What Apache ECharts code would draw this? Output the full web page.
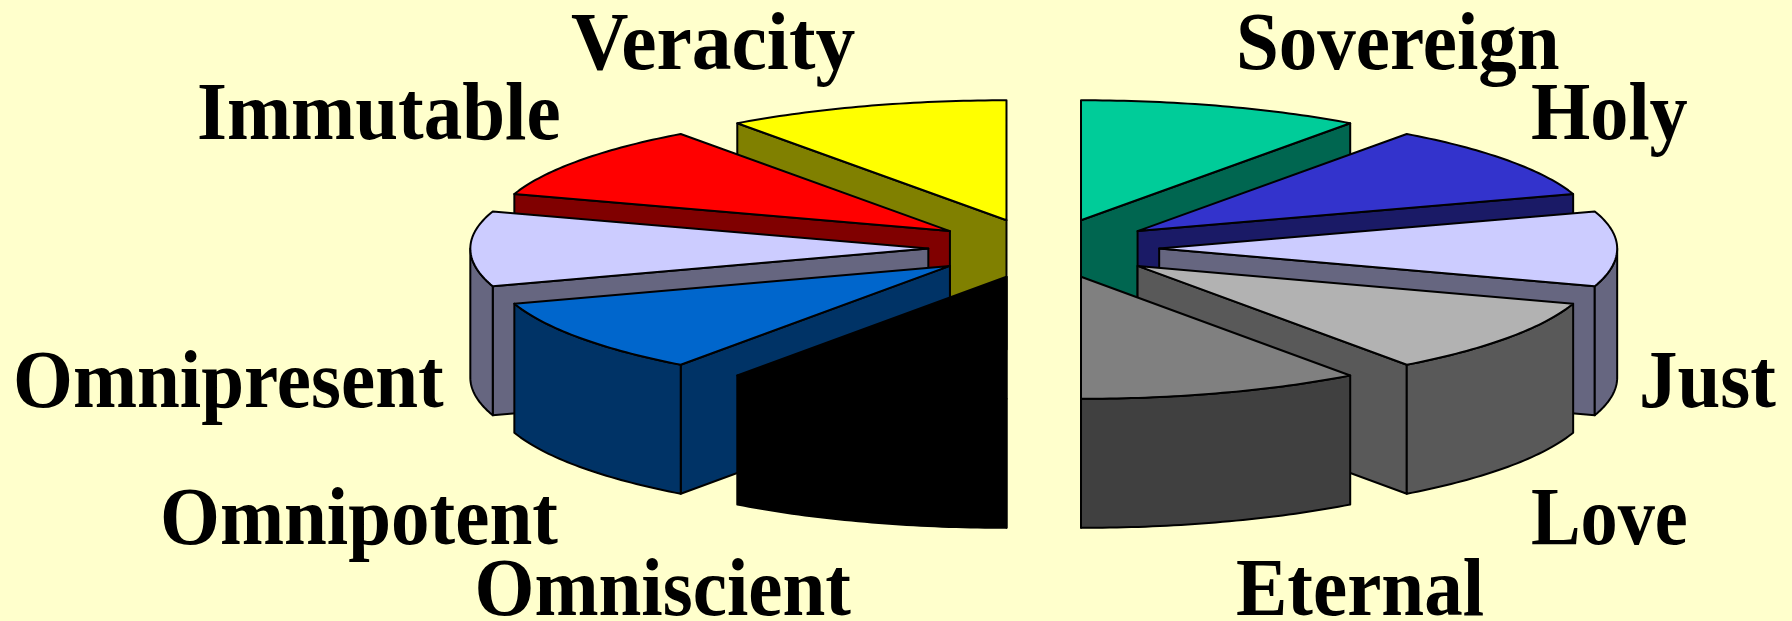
<!DOCTYPE html>
<html>
<head>
<meta charset="utf-8">
<style>
  html, body { margin: 0; padding: 0; background: #ffffcc; }
  #main { width: 1792px; height: 621px; }
</style>
<script src="https://cdn.jsdelivr.net/npm/echarts@6/dist/echarts.min.js"></script>
</head>
<body>
<div id="main"></div>
<script>
// clockwise from twelve o'clock
var categories = ['Sovereign', 'Holy', 'Just', 'Love', 'Eternal', 'Omniscient', 'Omnipotent', 'Omnipresent', 'Immutable', 'Veracity'];
var values = [10, 10, 10, 10, 10, 10, 10, 10, 10, 10];
var topColors = ['#00cc99', '#3333cc', '#ccccff', '#b2b2b2', '#808080', '#000000', '#0066cc', '#ccccff', '#ff0000', '#ffff00'];
var sideColors = ['#006650', '#1a1a66', '#666680', '#595959', '#404040', '#000000', '#003366', '#666680', '#800000', '#808000'];

// pie layout, in px
var W = 1792, H = 621;
var cx = 1043.75, cy = 248.5, rx = 458, ry = 120;
var depth = 129 / ry;
var explode = 0.247;
var halfGap = 2.3 / rx;     // the two halves sit a little further apart
var frontStretch = 1.018;   // near side of the pie is a touch deeper

// where each label starts: x, baseline, x scale
var labelSpots = {
    Sovereign: [1236, 70, 1], Holy: [1531, 140, 0.99], Just: [1639, 408, 1], Love: [1531, 545, 0.965], Eternal: [1236, 616, 1],
    Omniscient: [474.5, 616, 1], Omnipotent: [160, 545, 1], Omnipresent: [13, 408, 1], Immutable: [197, 140, 1], Veracity: [571, 70, 1.033]
};
var labelAscent = 59;
var labelScaleY = 1.06;

var total = values.reduce(function (a, b) { return a + b; }, 0);
var starts = [];
var sum = 0;
for (var v = 0; v < values.length; v++) {
    starts.push(sum / total * Math.PI * 2);
    sum += values[v];
}

function renderSlice(params, api) {
    var i = api.value(0);
    var a0 = starts[i];
    var a1 = a0 + api.value(1) / total * Math.PI * 2;
    var mid = (a0 + a1) / 2;
    var ox = explode * Math.sin(mid) + (mid < Math.PI ? halfGap : -halfGap);
    var oy = explode * Math.cos(mid);
    var apex = function (dz) { return api.coord([ox, oy - dz]); };
    var rim = function (a, dz) {
        var c = Math.cos(a);
        return api.coord([ox + Math.sin(a), oy + (c < 0 ? c * frontStretch : c) - dz]);
    };
    var arc = function (from, to, dz) {
        var pts = [];
        var n = 40;
        for (var k = 0; k <= n; k++) {
            pts.push(rim(from + (to - from) * k / n, dz));
        }
        return pts;
    };
    var line = {stroke: '#000', lineWidth: 2, lineJoin: 'round'};
    var children = [];

    // the radial face turned to the viewer
    var fa = a0 < Math.PI - 1e-6 ? a1 : a0;
    children.push({
        type: 'polygon',
        shape: {points: [apex(0), rim(fa, 0), rim(fa, depth), apex(depth)]},
        style: Object.assign({fill: sideColors[i]}, line)
    });

    // outer wall, front half only
    var w0 = Math.max(a0, Math.PI / 2);
    var w1 = Math.min(a1, Math.PI * 1.5);
    if (w1 > w0) {
        children.push({
            type: 'polygon',
            shape: {points: arc(w0, w1, 0).concat(arc(w1, w0, depth))},
            style: Object.assign({fill: sideColors[i]}, line)
        });
    }

    // top
    children.push({
        type: 'polygon',
        shape: {points: [apex(0)].concat(arc(a0, a1, 0))},
        style: Object.assign({fill: topColors[i]}, line)
    });
    return {type: 'group', children: children};
}

// back slices first, so the front ones cover them
var drawOrder = categories.map(function (c, i) { return i; }).sort(function (p, q) {
    var dp = Math.cos(starts[p] + values[p] / total * Math.PI);
    var dq = Math.cos(starts[q] + values[q] / total * Math.PI);
    return dq - dp;
});

var labels = categories.map(function (name) {
    var spot = labelSpots[name];
    return {
        type: 'text',
        silent: true,
        x: spot[0],
        y: spot[1],
        scaleX: spot[2],
        scaleY: labelScaleY,
        style: {
            text: name,
            x: 0,
            y: -labelAscent,
            fill: '#000',
            font: 'bold 77px "Liberation Serif"'
        }
    };
});

var chart = echarts.init(document.getElementById('main'), null, {renderer: 'canvas'});
chart.setOption({
    animation: false,
    backgroundColor: '#ffffcc',
    grid: {left: 0, right: 0, top: 0, bottom: 0},
    xAxis: {type: 'value', show: false, min: -cx / rx, max: (W - cx) / rx},
    yAxis: {type: 'value', show: false, min: -(H - cy) / ry, max: cy / ry},
    graphic: labels,
    series: [{
        type: 'custom',
        coordinateSystem: 'cartesian2d',
        renderItem: renderSlice,
        encode: {x: 0, y: 2},
        data: drawOrder.map(function (i) {
            return {value: [i, values[i], 0], name: categories[i]};
        })
    }]
});
</script>
</body>
</html>
